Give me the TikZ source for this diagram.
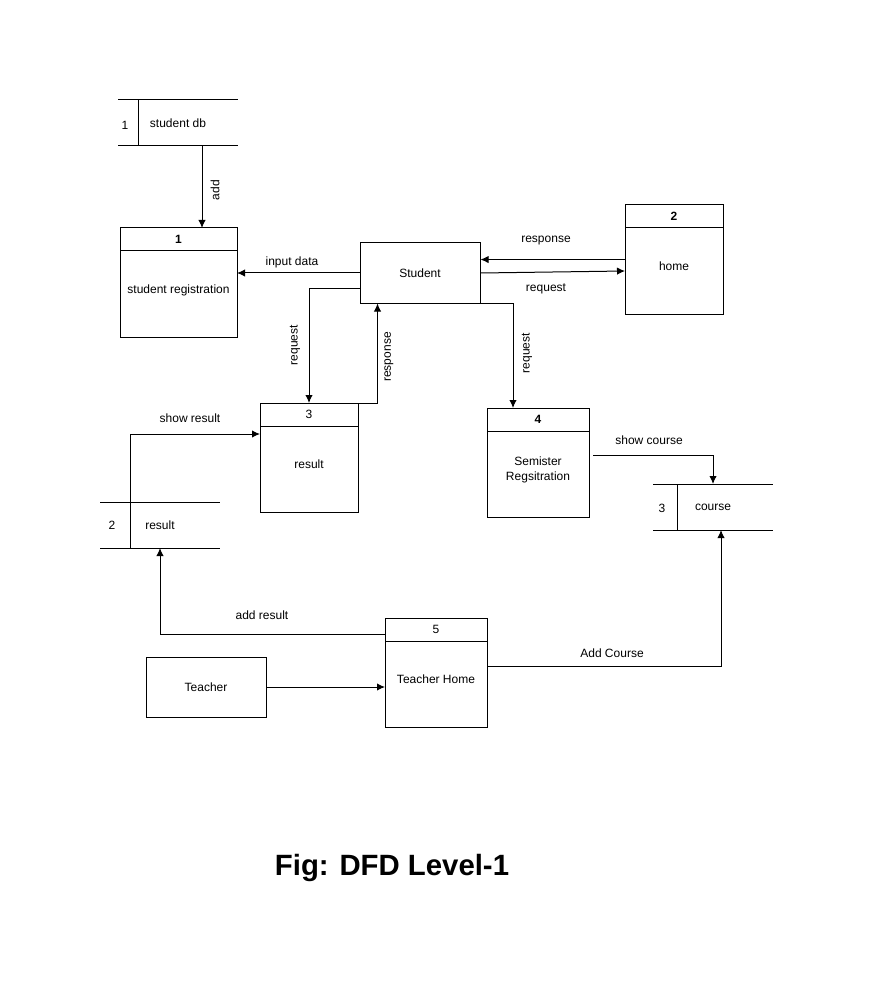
\documentclass[tikz,border=0pt]{standalone}
\usepackage{fontspec}
\setmainfont{Liberation Sans}
\usepackage{tikz}
\usetikzlibrary{arrows.meta, positioning}
\newcommand{\dfdfont}{\fontsize{9}{11}\selectfont}

\begin{document}
\begin{tikzpicture}[
    x=0.75pt, y=-0.75pt,
    line width=0.75pt,
    head/.style={rectangle, draw, font=\dfdfont, minimum height=17.25pt, inner sep=0pt, outer sep=0pt},
    body/.style={rectangle, draw, font=\dfdfont, align=center, text depth=8pt, minimum height=64.5pt, inner sep=2pt, outer sep=0pt},
    entity/.style={rectangle, draw, font=\dfdfont, minimum width=90pt, minimum height=45pt},
    store/.style={rectangle, font=\dfdfont, minimum width=90pt, minimum height=34.5pt, outer sep=0pt},
    lbl/.style={font=\dfdfont, inner sep=1pt},
    arrow/.style={-{Latex[length=6pt, width=5.5pt]}}
]
\useasboundingbox (0,0) rectangle (874,987);

\node[store] (sdb) at (178,123) {student db};
\node[lbl] (sdbnum) at (125,125) {1};
\node[store] (cs) at (713,507) {course};
\node[lbl] (csnum) at (662,508) {3};
\node[store] (rs) at (160,525) {result};
\node[lbl] (rsnum) at (112,525) {2};
\draw (sdb.north west) -- (sdb.north east) (sdb.south west) -- (sdb.south east);
\draw ([xshift=15pt]sdb.north west) -- ([xshift=15pt]sdb.south west);
\draw (cs.north west) -- (cs.north east) (cs.south west) -- (cs.south east);
\draw ([xshift=18pt]cs.north west) -- ([xshift=18pt]cs.south west);
\draw (rs.north west) -- (rs.north east) (rs.south west) -- (rs.south east);

\node[head, minimum width=87.75pt, font=\dfdfont\bfseries] (p1h) at (178.5,239.5) {1};
\node[body, minimum width=87.75pt, below=0pt of p1h] (p1) {student registration};
\node[head, minimum width=73.5pt, font=\dfdfont\bfseries] (p2h) at (674,216.5) {2};
\node[body, minimum width=73.5pt, below=0pt of p2h] (p2) {home};
\node[head, minimum width=73.5pt] (p3h) at (309,414.5) {3};
\node[body, minimum width=73.5pt, below=0pt of p3h] (p3) {result};
\node[head, minimum width=76.5pt, font=\dfdfont\bfseries] (p4h) at (538,419.5) {4};
\node[body, minimum width=76.5pt, below=0pt of p4h] (p4) {Semister\\Regsitration};
\node[head, minimum width=76.5pt] (p5h) at (436,629.5) {5};
\node[body, minimum width=76.5pt, below=0pt of p5h] (p5) {Teacher Home};

\node[entity] (st) at (420,273) {Student};
\node[entity] (te) at (206,687) {Teacher};

\coordinate (resp) at ([yshift=8.6pt]p2.west);
\coordinate (rq) at ([yshift=-11.25pt]st.west);
\coordinate (sc) at ([xshift=3pt,yshift=13.9pt]p4.east);
\coordinate (sr) at ([xshift=22.5pt]rs.south west);
\coordinate (srend) at ([yshift=-6pt]p3h.south west);
\coordinate (ar) at ([yshift=-3.4pt]p5h.west);
\coordinate (ac) at ([yshift=13pt]p5.east);

\draw[arrow] ([xshift=18pt]sdb.south) -- ([xshift=18pt]sdb.south |- p1h.north);
\draw[arrow] (st.west) -- (st.west -| p1.east);
\draw[arrow] (resp) -- (resp -| st.east);
\draw[arrow] (st.east) -- (p2.west);
\draw[arrow] (rq) -| (p3h.north);
\draw[arrow] (p3h.north east) -| ([xshift=13.5pt]st.south west);
\draw[arrow] ([xshift=-7.5pt]st.south east) -| ([xshift=-18.75pt]p4h.north);
\draw[arrow] (sc) -| (cs.north);
\draw[arrow] (sr) |- (srend);
\draw[arrow] (ar) -| (rs.south);
\draw[arrow] (te.east) -- (te.east -| p5.west);
\draw[arrow] (ac) -| ([xshift=6pt]cs.south);

\node[lbl, rotate=90] (ladd) at (215,190) {add};
\node[lbl] (linput) at (292,262) {input data};
\node[lbl] (lresp) at (546,241) {response};
\node[lbl] (lreq) at (546,289) {request};
\node[lbl, rotate=90] (lreq3) at (295,345) {request};
\node[lbl, rotate=90] (lresp3) at (389,357) {response};
\node[lbl, rotate=90] (lreq4) at (527,353) {request};
\node[lbl] (lshowres) at (190,418) {show result};
\node[lbl] (lshowcourse) at (649,440) {show course};
\node[lbl] (laddres) at (262,615) {add result};
\node[lbl] (laddcourse) at (612,653) {Add Course};

\node[font=\fontsize{22}{26}\selectfont\bfseries] (caption) at (392,868) {Fig: DFD Level-1};
\end{tikzpicture}
\end{document}
